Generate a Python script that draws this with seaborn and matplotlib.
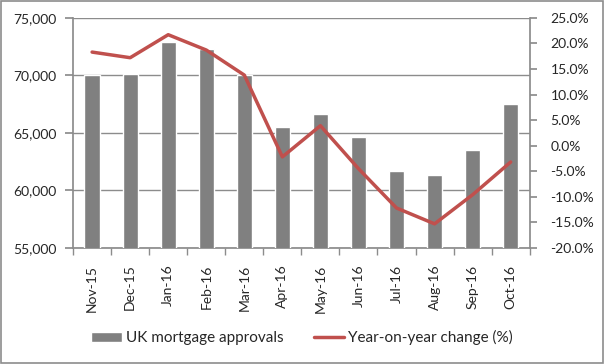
import matplotlib
matplotlib.use("Agg")
import matplotlib.pyplot as plt
import matplotlib.ticker as mticker
import seaborn as sns
import pandas as pd
import numpy as np

months = ["Nov-15", "Dec-15", "Jan-16", "Feb-16", "Mar-16", "Apr-16",
          "May-16", "Jun-16", "Jul-16", "Aug-16", "Sep-16", "Oct-16"]
approvals = [70000, 70150, 72900, 72300, 70000, 65500,
             66600, 64600, 61700, 61300, 63500, 67500]
yoy_change = [18.3, 17.2, 21.7, 18.7, 13.8, -2.2,
              3.9, -4.5, -12.2, -15.3, -9.6, -3.2]

df = pd.DataFrame({"month": months, "approvals": approvals, "yoy": yoy_change})

sns.set_theme(style="white")
plt.rcParams['font.family'] = ['Lato', 'DejaVu Sans']

fig = plt.figure(figsize=(6.04, 3.64), dpi=100)
ax = fig.add_axes([0.121, 0.319, 0.756, 0.632])
grey = "#8c8c8c"
txt = "#262626"

sns.barplot(data=df, x="month", y="approvals", color="#808080", width=0.4,
            saturation=1, ax=ax, label="UK mortgage approvals", zorder=3)
ax.set_ylim(55000, 75000)
ax.set_yticks([55000, 60000, 65000, 70000, 75000])
ax.yaxis.set_major_formatter(mticker.FuncFormatter(lambda v, p: f"{int(v):,}"))
ax.grid(axis="y", color=grey, linewidth=1, zorder=0)
ax.set_axisbelow(True)
ax.set_xlim(-0.5, len(months) - 0.5)
ax.set_xlabel("")
ax.set_ylabel("")

ax2 = ax.twinx()
sns.lineplot(data=df, x="month", y="yoy", color="#C0504D", linewidth=2.5,
             ax=ax2, label="Year-on-year change (%)", sort=False)
ax2.set_ylim(-20, 25)
ax2.set_yticks(np.arange(-20, 26, 5))
ax2.yaxis.set_major_formatter(mticker.FuncFormatter(lambda v, p: f"{v:.1f}%"))
ax2.set_ylabel("")
ax2.set_xlim(-0.5, len(months) - 0.5)

for a in (ax, ax2):
    for s in a.spines.values():
        s.set_visible(False)
ax.spines["left"].set_visible(True)
ax.spines["left"].set_color(grey)
ax.spines["bottom"].set_visible(True)
ax.spines["bottom"].set_color(grey)
ax2.spines["right"].set_visible(True)
ax2.spines["right"].set_color(grey)

ax.tick_params(axis="y", left=True, length=6, color=grey, labelsize=10, labelcolor=txt, pad=6)
ax2.tick_params(axis="y", right=True, length=5, color=grey, labelsize=10, labelcolor=txt, pad=10)
# x ticks: labels at centers, tick marks at boundaries
ax.set_xticks(range(len(months)))
ax.set_xticklabels(months, rotation=90, fontsize=10, color=txt)
ax.tick_params(axis="x", bottom=False, pad=6)
ax.set_xticks(np.arange(-0.5, len(months), 1), minor=True)
ax.tick_params(axis="x", which="minor", bottom=True, length=5, color=grey)

h1, l1 = ax.get_legend_handles_labels()
h2, l2 = ax2.get_legend_handles_labels()
if ax2.get_legend():
    ax2.get_legend().remove()
if ax.get_legend():
    ax.get_legend().remove()
fig.legend(h1 + h2, l1 + l2, loc="center", bbox_to_anchor=(0.5, 0.072), ncol=2,
           frameon=False, fontsize=11, handlelength=2.0, columnspacing=2.0,
           handletextpad=0.25, labelcolor=txt)

border = plt.Rectangle((0.002, 0.002), 0.996, 0.994, transform=fig.transFigure,
                       fill=False, edgecolor=grey, linewidth=1.2)
fig.patches.append(border)

fig.savefig("out.png", dpi=100)
